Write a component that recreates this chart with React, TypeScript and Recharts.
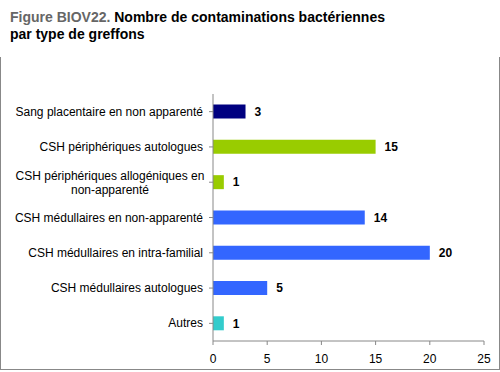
import React from "react";
import { BarChart, Bar, XAxis, YAxis, Cell, LabelList } from "recharts";

const categories = [
  "Sang placentaire en non apparenté",
  "CSH périphériques autologues",
  "CSH périphériques allogéniques en|non-apparenté",
  "CSH médullaires en non-apparenté",
  "CSH médullaires en intra-familial",
  "CSH médullaires autologues",
  "Autres",
];
const values = [3, 15, 1, 14, 20, 5, 1];
const colors = ["#000080", "#99CC00", "#99CC00", "#3366FF", "#3366FF", "#3366FF", "#33CCCC"];
const xTicks = [0, 5, 10, 15, 20, 25];

const data = categories.map((name, i) => ({ name, value: values[i] }));

const font = "Arial, 'Liberation Sans', sans-serif";

function CategoryTick(props: any) {
  const { x, y, payload } = props;
  const lines = String(payload.value).split("|");
  if (lines.length === 1) {
    return (
      <text x={x} y={y} dy={4} textAnchor="end" fontSize={12} fontFamily={font} fill="#000">
        {lines[0]}
      </text>
    );
  }
  // two-line label, centred like Excel does
  const w = 186;
  const cx = x - w / 2;
  return (
    <text textAnchor="middle" fontSize={12} fontFamily={font} fill="#000">
      {lines.map((l, i) => (
        <tspan key={i} x={cx} y={y + (i - (lines.length - 1) / 2) * 14 + 5}>
          {l}
        </tspan>
      ))}
    </text>
  );
}

export default function App() {
  return (
    <div style={{ position: "relative", width: 500, height: 372, background: "#fff", fontFamily: font }}>
      <style>{"body{margin:0}"}</style>
      <div
        style={{
          position: "absolute",
          left: 10,
          top: 9,
          fontSize: 14,
          fontWeight: "bold",
          lineHeight: "17px",
          color: "#000",
        }}
      >
        <span style={{ color: "#666" }}>Figure BIOV22.</span> Nombre de contaminations bactériennes
        <br />
        par type de greffons
      </div>
      <div
        style={{
          position: "absolute",
          left: 0,
          top: 57,
          width: 498,
          height: 312,
          borderLeft: "1px solid #888",
          borderRight: "1px solid #888",
          borderBottom: "1px solid #888",
        }}
      />
      <div style={{ position: "absolute", left: 0, top: 0 }}>
        <BarChart
          width={500}
          height={372}
          data={data}
          layout="vertical"
          margin={{ top: 94, right: 16, bottom: 1, left: 0 }}
          barCategoryGap="30%"
        >
          <XAxis
            type="number"
            domain={[0, 25]}
            ticks={xTicks}
            height={30}
            tickSize={4}
            tickMargin={9}
            stroke="#888"
            tick={{ fill: "#000", fontSize: 12, fontFamily: font }}
            interval={0}
          />
          <YAxis
            type="category"
            dataKey="name"
            width={213}
            tickSize={4}
            tickMargin={6}
            stroke="#888"
            tick={<CategoryTick />}
            interval={0}
          />
          <Bar dataKey="value" isAnimationActive={false}>
            {data.map((d, i) => (
              <Cell key={d.name} fill={colors[i]} />
            ))}
            <LabelList
              dataKey="value"
              position="right"
              offset={9}
              fill="#000"
              fontSize={12}
              fontWeight="bold"
              fontFamily={font}
            />
          </Bar>
        </BarChart>
      </div>
    </div>
  );
}
